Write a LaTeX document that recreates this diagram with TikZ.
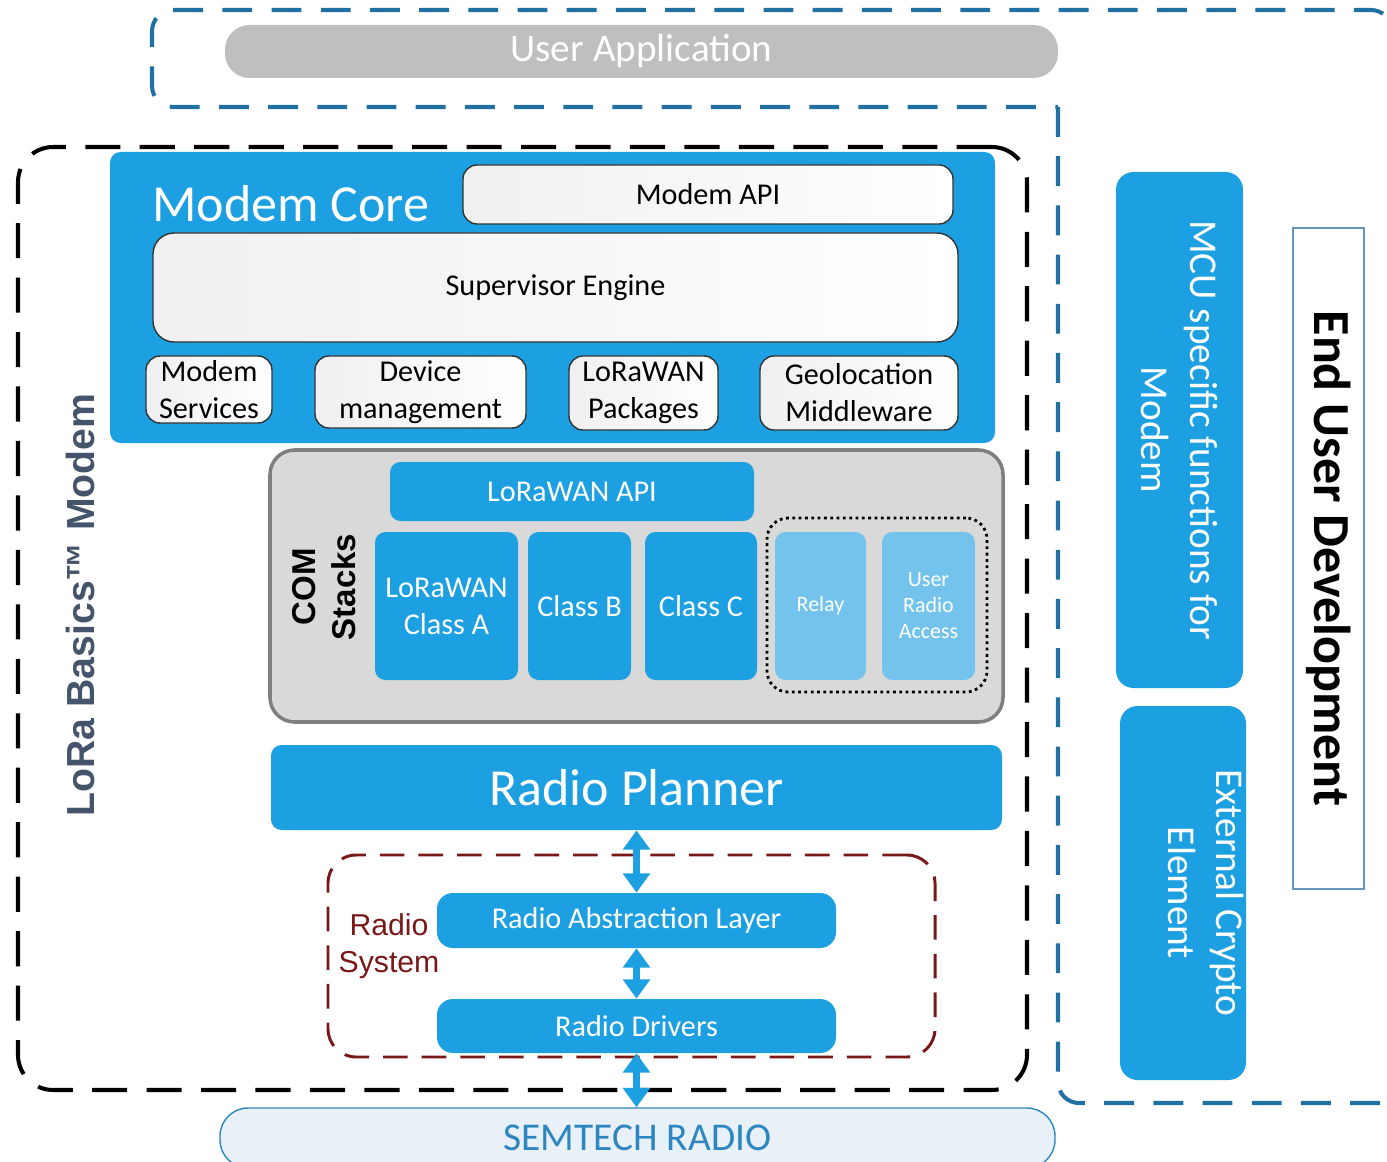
\documentclass[tikz,border=0pt]{standalone}
\usepackage{fontspec}
\setmainfont{Carlito}
\newfontfamily\arialfont{Liberation Sans}
\usepackage{tikz}
\usetikzlibrary{arrows.meta, positioning}

\definecolor{modemblue}{RGB}{29,160,225}
\definecolor{paleblue}{RGB}{115,195,236}
\definecolor{appgray}{RGB}{191,191,191}
\definecolor{stackgray}{RGB}{217,217,217}
\definecolor{stackedge}{RGB}{127,127,127}
\definecolor{zoneblue}{RGB}{33,112,162}
\definecolor{radiored}{RGB}{122,24,24}
\definecolor{titleslate}{RGB}{68,84,106}
\definecolor{radiotext}{RGB}{46,134,193}
\definecolor{radiofill}{RGB}{233,241,248}
\definecolor{devedge}{RGB}{100,150,190}

\newcommand{\fsnorm}{\fontsize{17.2}{21}\selectfont}
\newcommand{\fssmall}{\fontsize{12.5}{14.8}\selectfont}
\newcommand{\fsapp}{\fontsize{22.3}{26}\selectfont}
\newcommand{\fsbig}{\fontsize{29.6}{34}\selectfont}
\newcommand{\fsside}{\fontsize{22.4}{27.5}\selectfont}
\newcommand{\fssemtech}{\fontsize{22.4}{26}\selectfont}
\newcommand{\fsbasics}{\arialfont\bfseries\fontsize{22.3}{26}\selectfont}
\newcommand{\fsstack}{\arialfont\bfseries\fontsize{18.8}{22.8}\selectfont}

\tikzset{
	boxat/.style n args={4}{at={({(#1+#3)/2},{(#2+#4)/2})}, minimum width={(#3-#1)*0.02cm}, minimum height={(#4-#2)*0.02cm}, inner sep=0pt},
	bluebox/.style={fill=modemblue, rounded corners=6pt, text=white, align=center, font=\fsnorm},
	relaybox/.style={fill=paleblue, rounded corners=6pt, text=white, align=center, font=\fssmall},
	whitebox/.style={draw=black!80, line width=0.8pt, left color=black!6, right color=white, rounded corners=8pt, align=center, font=\fsnorm},
	zone/.style={draw=zoneblue, line width=2.3pt, dash pattern=on 17pt off 11pt},
	link/.style={{Triangle[width=15pt,length=11pt]}-{Triangle[width=15pt,length=11pt]}, line width=3.6pt, draw=modemblue}
}

\begin{document}
\begin{tikzpicture}[x=0.02cm, y=-0.02cm]
		\useasboundingbox (0,0) rectangle (1387,1162);
		\clip (0,0) rectangle (1387,1162);
		
		\draw[zone, rounded corners=12pt] (1392,60) -- (1392,10) -- (152,10) -- (152,107) -- (1058,107);
		\draw[zone, rounded corners=12pt] (1058,107) -- (1058,1103) -- (1400,1103);
		\node[boxat={18}{147}{1027}{1090}, draw=black, line width=2.3pt, dash pattern=on 20pt off 11pt, rounded corners=20pt] (modemzone) {};
		
		\node[boxat={225}{25}{1058}{78}, fill=appgray, rounded corners=14pt, text=white, font=\fsapp] (userapp) {User Application};
		
		\node[boxat={110}{152}{995}{443}, fill=modemblue, rounded corners=6pt] (core) {};
		\node[anchor=west, inner sep=0pt, text=white, font=\fsbig] (coretitle) at (152,204) {Modem Core};
		\node[whitebox, boxat={463}{165}{953}{224}] (modemapi) {Modem API};
		\node[whitebox, boxat={153}{233}{958}{342}, rounded corners=12pt] (supervisor) {Supervisor Engine};
		\node[whitebox, boxat={146}{356}{272}{423}] (services) {Modem\\Services};
		\node[whitebox, boxat={315}{356}{526}{428}] (devmgmt) {Device\\management};
		\node[whitebox, boxat={569}{356}{718}{430}] (packages) {LoRaWAN\\Packages};
		\node[whitebox, boxat={760}{356}{958}{430}] (geoloc) {Geolocation\\Middleware};
		
		\node[boxat={270}{450}{1003}{722}, fill=stackgray, draw=stackedge, line width=2pt, rounded corners=14pt] (stacks) {};
		\node[rotate=90, align=center, font=\fsstack] (stackslabel) at (324,587) {COM\\Stacks};
		\node[bluebox, boxat={390}{462}{754}{521}] (lwapi) {LoRaWAN API};
		\node[bluebox, boxat={375}{532}{518}{680}] (classa) {LoRaWAN\\Class A};
		\node[bluebox, boxat={528}{532}{631}{680}] (classb) {Class B};
		\node[bluebox, boxat={645}{532}{757}{680}] (classc) {Class C};
		\node[boxat={767}{518}{987}{692}, draw=black, line width=1.6pt, dotted, rounded corners=12pt] (extras) {};
		\node[relaybox, boxat={775}{532}{866}{680}] (relay) {Relay};
		\node[relaybox, boxat={882}{532}{975}{680}] (useraccess) {User\\Radio\\Access};
		
		\node[bluebox, boxat={271}{745}{1002}{830}, font=\fsbig] (planner) {Radio Planner};
		
		\node[boxat={328}{855}{935}{1057}, draw=radiored, line width=1.7pt, dash pattern=on 14pt off 8pt, rounded corners=16pt] (radiosys) {};
		\node[align=center, text=radiored, font=\arialfont\fsnorm] (radiolabel) at (389,946) {Radio\\System};
		\node[bluebox, boxat={437}{893}{836}{948}, rounded corners=9pt] (ral) {Radio Abstraction Layer};
		\node[bluebox, boxat={437}{999}{836}{1053}, rounded corners=9pt] (drivers) {Radio Drivers};
		
		\node[boxat={220}{1108}{1055}{1168}, fill=radiofill, draw=radiotext, line width=0.8pt, rounded corners=16pt, text=radiotext, font=\fssemtech] (semtech) {SEMTECH RADIO};
		
		\draw[link] (planner.south) -- (ral.north);
		\draw[link] (ral.south) -- (drivers.north);
		\draw[link] (drivers.south) -- (drivers.south |- semtech.north);
		
		\node[rotate=90, text=titleslate, font=\fsbasics] (basics) at (80,605) {LoRa Basics™ Modem};
		
		\node[boxat={1116}{172}{1243}{688}, fill=modemblue, rounded corners=10pt] (mcu) {};
		\node[rotate=-90, align=center, text=white, font=\fsside] (mcutext) at (mcu) {MCU specific functions for\\Modem};
		\node[boxat={1120}{706}{1246}{1080}, fill=modemblue, rounded corners=10pt] (crypto) {};
		\node[rotate=-90, align=center, text=white, font=\fsside] (cryptotext) at (1206,893) {External Crypto\\Element};
		\node[boxat={1293}{228}{1364}{889}, draw=devedge, line width=0.9pt, fill=white] (enduser) {};
		\node[rotate=-90, font=\fsbig\bfseries] (endusertext) at (enduser) {End User Development};
\end{tikzpicture}
\end{document}
